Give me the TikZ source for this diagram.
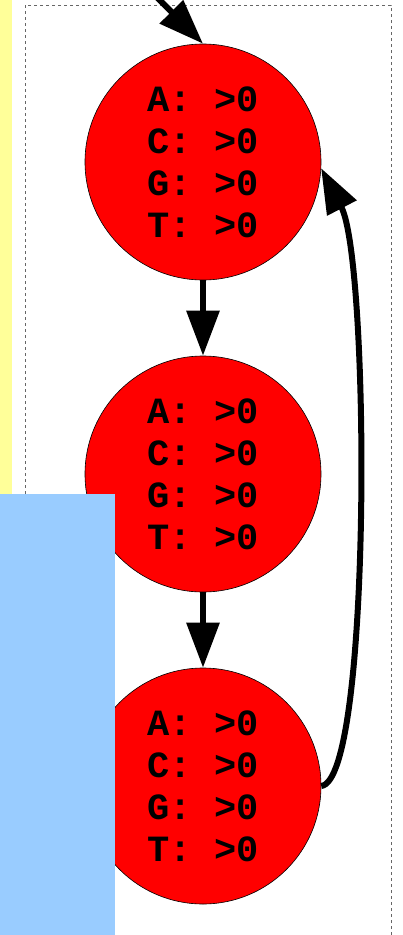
\documentclass[tikz,border=0pt]{standalone}
\usepackage{fontspec}
\newfontfamily\monob{Liberation Mono}
\usetikzlibrary{arrows.meta}
\definecolor{paleyellow}{HTML}{FFFF99}
\definecolor{paleblue}{HTML}{99CCFF}
\tikzset{
  state/.style={circle, draw=black, line width=0.6pt, fill=red, minimum size=236pt, inner sep=0pt,
    align=center, font=\monob\bfseries\fontsize{37}{42}\selectfont},
  edge/.style={line width=6pt, -{Triangle[length=45pt,width=32pt]}}
}
\begin{document}
\begin{tikzpicture}[x=1pt,y=-1pt]
\useasboundingbox (0,0) rectangle (403,935);
\clip (0,0) rectangle (403,935);
\fill[paleyellow] (0,-5) rectangle (12,500);
\draw[gray!80!black, line width=0.8pt, dash pattern=on 3pt off 3pt] (25,5) rectangle (391,950);
\node[state] (c1) at (203,162) {A: >0\\C: >0\\G: >0\\T: >0};
\node[state] (c2) at (203,474) {A: >0\\C: >0\\G: >0\\T: >0};
\node[state] (c3) at (203,786) {A: >0\\C: >0\\G: >0\\T: >0};
\coordinate (src) at (130,-30);
\draw[edge] (src) -- (c1.north);
\draw[edge] (c1) -- (c2);
\draw[edge] (c2) -- (c3);
\draw[edge] (c3.east) .. controls (372,780) and (370,262) .. (c1.-3);
\fill[paleblue] (0,494) rectangle (115,940);
\end{tikzpicture}
\end{document}
